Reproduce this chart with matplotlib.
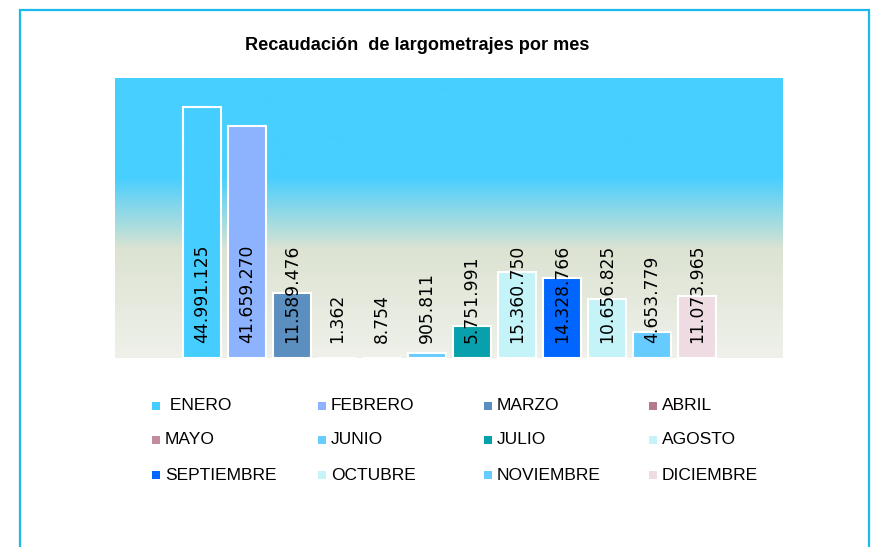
import matplotlib
matplotlib.use("Agg")
import matplotlib.pyplot as plt
import numpy as np
from matplotlib.colors import LinearSegmentedColormap, to_rgb
from matplotlib.patches import Rectangle

months = ["ENERO", "FEBRERO", "MARZO", "ABRIL", "MAYO", "JUNIO", "JULIO",
          "AGOSTO", "SEPTIEMBRE", "OCTUBRE", "NOVIEMBRE", "DICIEMBRE"]
values = [44991125, 41659270, 11589476, 1362, 8754, 905811, 5751991,
          15360750, 14328766, 10656825, 4653779, 11073965]
labels = ["44.991.125", "41.659.270", "11.589.476", "1.362", "8.754", "905.811",
          "5.751.991", "15.360.750", "14.328.766", "10.656.825", "4.653.779", "11.073.965"]
colors = ["#45CDFF", "#8DB3FF", "#5B8FBF", "#B27A8B", "#C48C9B", "#66CCFF",
          "#08A0AC", "#C4F3F8", "#0066FF", "#C4F3F8", "#66CCFF", "#EEDCE2"]
title = "Recaudación  de largometrajes por mes"

W, H = 884, 547
fig = plt.figure(figsize=(W / 100, H / 100), dpi=100)

# outer frame
fig.add_artist(Rectangle((19.5 / W, -0.05), (868.5 - 19.5) / W, 1.05 - 9.5 / H,
                         transform=fig.transFigure, fill=False,
                         edgecolor="#1BB8EC", linewidth=1.6))

ax = fig.add_axes([115 / W, (H - 358) / H, (783 - 115) / W, (358 - 78) / H])
n = len(values)
xlim = (-1.93, n - 1 + 1.91)
ylim = (0, 50.2e6)

# gradient background
stops = [(0.0, "#47CFFF"), (0.354, "#47CFFF"), (0.45, "#80D6EC"),
         (0.54, "#B0DEDC"), (0.61, "#DCE3D2"), (1.0, "#EFF1EA")]
cmap = LinearSegmentedColormap.from_list("bg", [(p, to_rgb(c)) for p, c in stops])
grad = np.linspace(0, 1, 512).reshape(-1, 1)
ax.imshow(grad, cmap=cmap, aspect="auto", extent=[xlim[0], xlim[1], ylim[0], ylim[1]],
          origin="upper", zorder=0)

x = np.arange(n)
ax.bar(x, values, width=0.84, color=colors, edgecolor="white", linewidth=1.5, zorder=2)
for xi, lab in zip(x, labels):
    ax.annotate(lab, xy=(xi, 0), xytext=(0, 10.5), textcoords="offset points",
                rotation=90, ha="center", va="bottom", fontsize=12.3,
                family="DejaVu Sans", color="black", zorder=3)

ax.set_xlim(*xlim)
ax.set_ylim(*ylim)
ax.axis("off")

fig.text(417 / W, 1 - 46 / H, title, ha="center", va="center",
         fontsize=13.1, fontweight="bold", family="Liberation Sans")

# legend (manual grid, 4 columns x 3 rows)
col_x = [156, 322, 488, 653]
row_y = [406, 440, 475]
sq = 8
for i, (m, c) in enumerate(zip(months, colors)):
    r, cidx = divmod(i, 4)
    cx, cy = col_x[cidx], row_y[r]
    fig.add_artist(Rectangle(((cx - sq / 2) / W, 1 - (cy + sq / 2) / H), sq / W, sq / H,
                             transform=fig.transFigure, facecolor=c, edgecolor="none"))
    lab = (" " + m) if i == 0 else m
    fig.text((cx + 9) / W, 1 - cy / H, lab, ha="left", va="center",
             fontsize=12.5, family="Liberation Sans", color="black")

fig.savefig("out.png", dpi=100)
